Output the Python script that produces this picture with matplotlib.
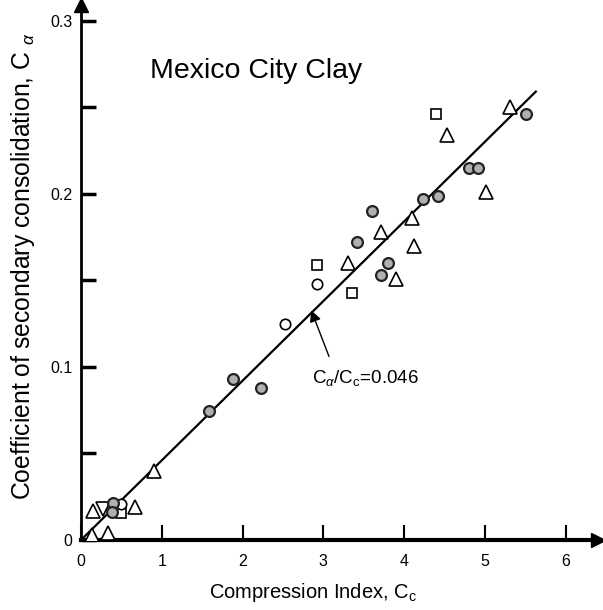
import numpy as np
import matplotlib
matplotlib.use('Agg')
import matplotlib.pyplot as plt

plt.rcParams['font.family'] = ['Liberation Sans', 'DejaVu Sans']
plt.rcParams['mathtext.fontset'] = 'custom'
plt.rcParams['mathtext.rm'] = 'Liberation Sans'
plt.rcParams['mathtext.it'] = 'Liberation Sans:italic'

# measured Cc / C_alpha pairs, grouped by symbol
gray_cc = [5.51, 4.80, 4.91, 4.23, 4.42, 3.60, 3.42, 3.80, 3.71, 1.88, 2.23, 1.58, 0.40, 0.38]
gray_ca = [0.246, 0.215, 0.215, 0.197, 0.1985, 0.190, 0.172, 0.160, 0.153, 0.093, 0.088, 0.0744, 0.0214, 0.0162]

tri_cc = [5.31, 4.53, 5.01, 4.10, 3.71, 4.12, 3.30, 3.90, 0.90, 0.15, 0.67, 0.33, 0.14]
tri_ca = [0.250, 0.234, 0.201, 0.186, 0.178, 0.170, 0.160, 0.151, 0.040, 0.0167, 0.019, 0.004, 0.003]

sq_cc = [4.39, 2.92, 3.35, 0.50]
sq_ca = [0.246, 0.159, 0.1425, 0.0156]

circ_cc = [2.92, 2.52, 0.50]
circ_ca = [0.148, 0.1246, 0.0208]

inv_cc = [0.27]
inv_ca = [0.018]

ratio = 0.046
line_cc = np.array([0.0, 5.63])

fig = plt.figure(figsize=(6.03, 6.10), dpi=100)
ax = fig.add_axes([81 / 603, 70 / 610, 517 / 603, 535 / 610])
ax.set_xlim(0, 6.4)
ax.set_ylim(0, 0.309)

ax.plot(line_cc, ratio * line_cc, color='black', lw=1.6, zorder=2)

ax.plot(tri_cc, tri_ca, linestyle='none', marker='^', ms=10, mfc='white',
        mec='black', mew=1.2, zorder=3)
ax.plot(inv_cc, inv_ca, linestyle='none', marker='v', ms=10, mfc='white',
        mec='black', mew=1.2, zorder=3)
ax.plot(sq_cc, sq_ca, linestyle='none', marker='s', ms=7.5, mfc='white',
        mec='black', mew=1.2, zorder=3)
ax.plot(circ_cc, circ_ca, linestyle='none', marker='o', ms=7.5, mfc='white',
        mec='black', mew=1.2, zorder=3)
ax.plot(gray_cc, gray_ca, linestyle='none', marker='o', ms=7.8, mfc='#b0b0b0',
        mec='#222222', mew=1.6, zorder=4)

ax.text(0.85, 0.267, 'Mexico City Clay', fontsize=20.5)

# slope label with its pointer
ax.annotate('', xy=(2.85, 0.1327), xytext=(3.07, 0.106),
            arrowprops=dict(arrowstyle='-|>', color='black', lw=1.0, mutation_scale=17,
                            shrinkA=0, shrinkB=0))
ax.text(2.86, 0.0905, r'C$_\alpha$/C$_\mathrm{c}$=0.046', fontsize=13.5)

# axes drawn as arrows
for side in ['top', 'right']:
    ax.spines[side].set_visible(False)
ax.spines['left'].set_linewidth(2.0)
ax.spines['bottom'].set_linewidth(3.0)
ax.plot(1, 0, '>', color='black', ms=10, transform=ax.transAxes, clip_on=False)
ax.plot(0, 1, '^', color='black', ms=10, transform=ax.transAxes, clip_on=False)

ax.set_xticks(range(0, 7))
ax.set_xticklabels([str(i) for i in range(0, 7)])
ax.set_yticks([0, 0.05, 0.1, 0.15, 0.2, 0.25, 0.3])
ax.set_yticklabels(['0', '', '0.1', '', '0.2', '', '0.3'])
ax.tick_params(axis='x', direction='in', length=11, width=1.5, labelsize=11.5, pad=10)
ax.tick_params(axis='y', direction='in', length=11, width=2.5, labelsize=11.5, pad=6)

fig.text(313 / 603, 1 - 593 / 610, r'Compression Index, C$_\mathrm{c}$', fontsize=14.5,
         ha='center', va='center')
fig.text(23 / 603, 1 - 266 / 610, r'Coefficient of secondary consolidation, C $_\alpha$',
         fontsize=17.8, rotation=90, ha='center', va='center')

fig.savefig('out.png', dpi=100)
